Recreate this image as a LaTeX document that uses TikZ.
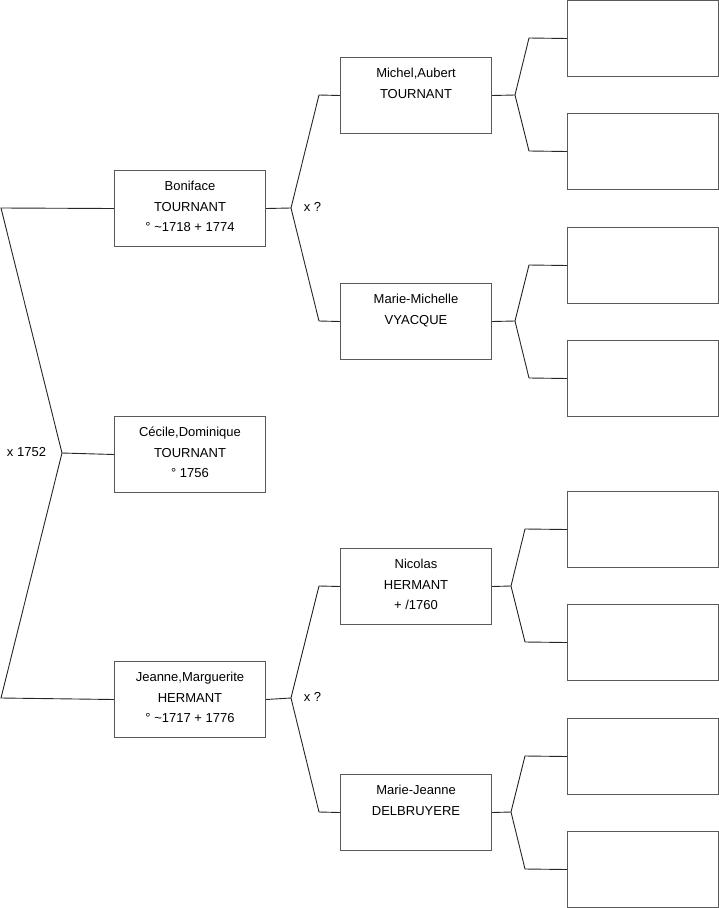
\documentclass[tikz,border=0pt]{standalone}
\usepackage{fontspec}
\setmainfont{Liberation Sans}
\newcommand\pcontent[1]{\parbox[c][76pt][t]{151pt}{\centering\fontsize{13}{20.5}\selectfont\vspace{10.8pt}#1}}
\tikzset{
  person/.style={draw=black!65, line width=1pt, inner sep=0pt, minimum width=151pt, minimum height=76pt, anchor=north west, fill=white},
  conn/.style={draw=black!85, line width=0.9pt},
  lbl/.style={font=\fontsize{13}{15}\selectfont, inner sep=0pt}
}
\begin{document}
\begin{tikzpicture}[x=1pt,y=-1pt]
\useasboundingbox (0,0) rectangle (719,908);
% generation 1
\node[person] (bon) at (114,170) {\pcontent{Boniface\\TOURNANT\\° \textasciitilde1718 + 1774}};
\node[person] (cec) at (114,416) {\pcontent{Cécile,Dominique\\TOURNANT\\° 1756}};
\node[person] (jea) at (114,661) {\pcontent{Jeanne,Marguerite\\HERMANT\\° \textasciitilde1717 + 1776}};
% generation 2
\node[person] (mic) at (340,57) {\pcontent{Michel,Aubert\\TOURNANT}};
\node[person] (mam) at (340,283) {\pcontent{Marie-Michelle\\VYACQUE}};
\node[person] (nic) at (340,548) {\pcontent{Nicolas\\HERMANT\\+ /1760}};
\node[person] (maj) at (340,774) {\pcontent{Marie-Jeanne\\DELBRUYERE}};
% generation 3 (empty)
\node[person] (e1) at (567,0) {};
\node[person] (e2) at (567,113) {};
\node[person] (e3) at (567,227) {};
\node[person] (e4) at (567,340) {};
\node[person] (e5) at (567,491) {};
\node[person] (e6) at (567,604) {};
\node[person] (e7) at (567,718) {};
\node[person] (e8) at (567,831) {};
% coordinates
\coordinate (L1) at (1,208);
\coordinate (Lm) at (62,453);
\coordinate (L3) at (1,698);
\coordinate (B) at (291,208);
\coordinate (Bt) at (319,95);
\coordinate (Bb) at (319,321);
\coordinate (J) at (291,698);
\coordinate (Jt) at (319,586);
\coordinate (Jb) at (319,812);
\coordinate (M) at (515,95);
\coordinate (Mt) at (529,38);
\coordinate (Mb) at (529,151);
\coordinate (V) at (515,321);
\coordinate (Vt) at (529,265);
\coordinate (Vb) at (529,378);
\coordinate (N) at (511,586);
\coordinate (Nt) at (525,529);
\coordinate (Nb) at (525,642);
\coordinate (D) at (511,812);
\coordinate (Dt) at (525,756);
\coordinate (Db) at (525,869);
% connectors
\draw[conn] (bon.west) -- (L1) -- (Lm) -- (L3) -- (jea.west);
\draw[conn] (Lm) -- (cec.west);
\draw[conn] (bon.east) -- (B);
\draw[conn] (mic.west) -- (Bt) -- (B) -- (Bb) -- (mam.west);
\draw[conn] (jea.east) -- (J);
\draw[conn] (nic.west) -- (Jt) -- (J) -- (Jb) -- (maj.west);
\draw[conn] (mic.east) -- (M);
\draw[conn] (e1.west) -- (Mt) -- (M) -- (Mb) -- (e2.west);
\draw[conn] (mam.east) -- (V);
\draw[conn] (e3.west) -- (Vt) -- (V) -- (Vb) -- (e4.west);
\draw[conn] (nic.east) -- (N);
\draw[conn] (e5.west) -- (Nt) -- (N) -- (Nb) -- (e6.west);
\draw[conn] (maj.east) -- (D);
\draw[conn] (e7.west) -- (Dt) -- (D) -- (Db) -- (e8.west);
% labels
\node[lbl] (m1) at (26.5,452) {x 1752};
\node[lbl] (m2) at (312.5,207) {x ?};
\node[lbl] (m3) at (312.5,697) {x ?};
\end{tikzpicture}
\end{document}
